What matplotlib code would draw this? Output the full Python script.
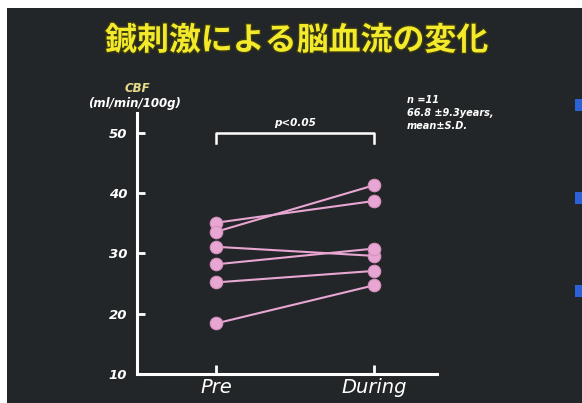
import matplotlib
matplotlib.use("Agg")
import matplotlib.pyplot as plt
import matplotlib.patheffects as pe
from matplotlib.patches import Rectangle

# data
groups = ["Pre", "During"]
pre = [35.1, 33.6, 31.1, 28.2, 25.2, 18.4]
during = [38.7, 41.3, 29.6, 30.8, 27.1, 24.7]
yticks = [10, 20, 30, 40, 50]

title = "鍼刺激による脳血流の変化"
note = "n =11\n66.8 ±9.3years,\nmean±S.D."

bg = "#232628"
pink = "#e8a6d2"
latin = "DejaVu Sans"

fig = plt.figure(figsize=(5.82, 4.03), dpi=100)
fig.patch.set_facecolor("white")
# dark slide area (white strip at top and left like the scan)
fig.patches.append(Rectangle((7 / 582, 0), 1, 1 - 8 / 403, transform=fig.transFigure,
                             facecolor=bg, edgecolor="none", zorder=-2))
# blue bullets cut off on the right edge
for yb in [105, 198, 291]:
    fig.patches.append(Rectangle((575 / 582, 1 - (yb + 6) / 403), 7 / 582, 12 / 403,
                                 transform=fig.transFigure, facecolor="#2b62d6",
                                 edgecolor="none", zorder=-1))

ax = fig.add_axes([137 / 582, 29 / 403, 300 / 582, 261 / 403])
ax.set_facecolor("none")
ax.set_zorder(2)

for a, b in zip(pre, during):
    ax.plot([0, 1], [a, b], color=pink, linewidth=1.5, zorder=3)
ax.plot([0] * len(pre), pre, "o", color=pink, markersize=9, markeredgecolor="#d890c0",
        markeredgewidth=0.8, zorder=4)
ax.plot([1] * len(during), during, "o", color=pink, markersize=9, markeredgecolor="#d890c0",
        markeredgewidth=0.8, zorder=4)

ax.set_xlim(-0.503, 1.401)
ax.set_ylim(10, 53.3)
ax.set_xticks([0, 1])
ax.set_xticklabels(groups)
ax.set_yticks(yticks)

for s in ["top", "right"]:
    ax.spines[s].set_visible(False)
for s in ["left", "bottom"]:
    ax.spines[s].set_color("white")
    ax.spines[s].set_linewidth(2.2)

ax.tick_params(axis="y", direction="in", length=6, width=2, color="white", pad=7,
               labelcolor="white")
ax.tick_params(axis="x", direction="in", length=6.5, width=2, color="white", pad=3,
               labelcolor="white")
for lab in ax.get_yticklabels():
    lab.set_family(latin)
    lab.set_fontstyle("oblique")
    lab.set_fontweight("bold")
    lab.set_fontsize(9.5)
for lab in ax.get_xticklabels():
    lab.set_family(latin)
    lab.set_fontstyle("oblique")
    lab.set_fontsize(14)

# bracket with significance
ax.plot([0, 0, 1, 1], [48.4, 50, 50, 48.4], color="white", linewidth=1.8, zorder=2,
        clip_on=False)
ax.text(0.5, 50.8, "p<0.05", ha="center", va="bottom", color="white", fontsize=7.5,
        family=latin, fontstyle="oblique", fontweight="bold")

# y-axis label
fig.text(137 / 582, 1 - 88 / 403, "CBF", ha="center", va="center", color="#e6dc8c",
         fontsize=8.5, family=latin, fontstyle="oblique", fontweight="bold")
fig.text(135 / 582, 1 - 103 / 403, "(ml/min/100g)", ha="center", va="center", color="white",
         fontsize=8.5, family=latin, fontstyle="oblique", fontweight="bold")

fig.text(407 / 582, 1 - 95 / 403, note, ha="left", va="top", color="white", fontsize=7,
         family=latin, fontstyle="oblique", fontweight="bold", linespacing=1.35)

fig.text(297 / 582, 1 - 41 / 403, title, ha="center", va="center", color="#f4ea2c",
         fontsize=23, family=["Noto Sans CJK JP", "DejaVu Sans"], fontweight="bold",
         path_effects=[pe.withStroke(linewidth=2, foreground="#3a3a10")])

fig.savefig("out.png", dpi=100, facecolor=fig.get_facecolor())
